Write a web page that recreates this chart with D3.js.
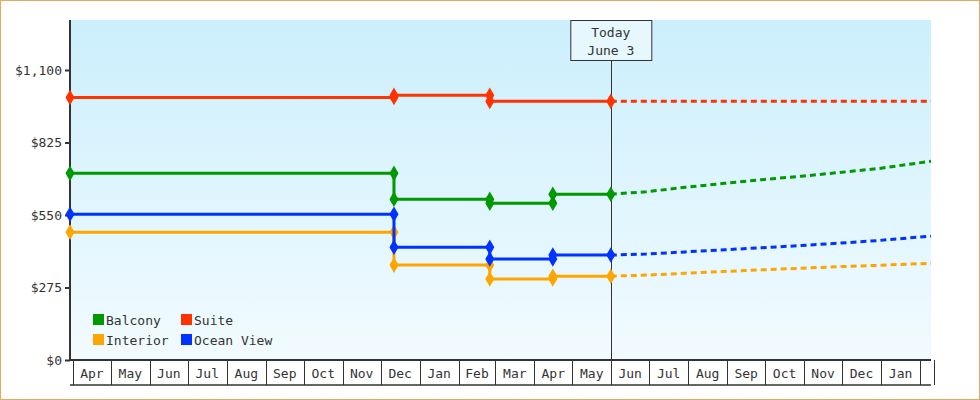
<!DOCTYPE html>
<html><head><meta charset="utf-8">
<script src="https://cdn.jsdelivr.net/npm/d3@7"></script>
<style>body{margin:0;background:#fff}svg{display:block}text{font-family:"DejaVu Sans Mono",monospace;font-size:13px;fill:#333}</style>
</head><body><svg id="c" width="980" height="400"></svg>
<script>
const yTicks = [0, 275, 550, 825, 1100];
const changeDates = ["2023-04-01", "2023-12-14", "2024-02-28", "2024-04-18", "2024-06-03"];
const forecastDates = ["2024-06-03","2024-07-01","2024-08-01","2024-09-01","2024-10-01","2024-11-01","2024-12-01","2025-01-01","2025-02-12"];
// history: values before/after each change date (empty = no marker)
const suiteHist    = [[996],[996,1004],[1004,981],[],[981]];
const balconyHist  = [[708],[708,610],[610,595],[595,629],[629]];
const oceanHist    = [[553],[553,428],[428,383],[383,398],[398]];
const interiorHist = [[485],[485,360],[360,307],[307,318],[318]];
const suiteFc    = [981,981,981,981,981,981,981,981,981];
const balconyFc  = [629,638,655,670,684,697,711,726,754];
const oceanFc    = [398,402,410,418,426,434,443,453,470];
const interiorFc = [318,322,329,336,342,348,354,359,367];
const seriesNames = ["Balcony","Suite","Interior","Ocean View"];
const colors = {"Balcony":"#009900","Suite":"#ff3300","Interior":"#ffa500","Ocean View":"#0033ff"};
const hist = {"Balcony":balconyHist,"Suite":suiteHist,"Interior":interiorHist,"Ocean View":oceanHist};
const fc = {"Balcony":balconyFc,"Suite":suiteFc,"Interior":interiorFc,"Ocean View":oceanFc};

const svg = d3.select("#c");
const L=70,R=931,T=20,B=360;
const p = d3.timeParse("%Y-%m-%d");
const x = d3.scaleTime().domain([p("2023-04-01"), p("2025-02-12")]).range([L,R]);
const y = d3.scaleLinear().domain([0,1100]).range([B,70]);

svg.append("rect").attr("x",0.5).attr("y",0.5).attr("width",979).attr("height",399).attr("fill","#fff").attr("stroke","#e8a860");
const g = svg.append("defs").append("linearGradient").attr("id","bg").attr("x1",0).attr("y1",0).attr("x2",0).attr("y2",1);
g.append("stop").attr("offset",0).attr("stop-color","#cbeffc");
g.append("stop").attr("offset",1).attr("stop-color","#f2fbff");
svg.append("rect").attr("x",L).attr("y",T).attr("width",R-L).attr("height",B-T).attr("fill","url(#bg)");

const ya = svg.append("g").attr("transform",`translate(${L},0)`)
  .call(d3.axisLeft(y).tickValues(yTicks).tickFormat(d=>"$"+d3.format(",")(d)).tickSize(5).tickPadding(3));
ya.select(".domain").remove();
ya.selectAll("line").attr("stroke","#333").attr("stroke-width",2);
ya.selectAll("text").style("font-size","13px").attr("fill","#333");
svg.append("line").attr("x1",L).attr("x2",L).attr("y1",T).attr("y2",B).attr("stroke","#333").attr("stroke-width",2);
svg.append("line").attr("x1",L).attr("x2",R).attr("y1",B).attr("y2",B).attr("stroke","#333").attr("stroke-width",2);

const months = d3.timeMonth.range(p("2023-04-01"), x.domain()[1]);
const bounds = months.concat([x.domain()[1]]);
svg.append("line").attr("x1",L).attr("x2",R).attr("y1",385).attr("y2",385).attr("stroke","#333").attr("stroke-width",1.5);
svg.selectAll(".sep").data(bounds).join("line").attr("x1",d=>Math.round(x(d))+3.5).attr("x2",d=>Math.round(x(d))+3.5)
  .attr("y1",B).attr("y2",385).attr("stroke","#333");
svg.selectAll(".ml").data(months.filter((d,i)=>i<months.length-1)).join("text")
  .attr("x",(d,i)=>(x(d)+x(bounds[i+1]))/2+3).attr("y",378).attr("text-anchor","middle").text(d3.timeFormat("%b"));

const today = p("2024-06-03");
svg.append("line").attr("x1",Math.round(x(today))+0.5).attr("x2",Math.round(x(today))+0.5).attr("y1",60).attr("y2",385).attr("stroke","#333");
svg.append("rect").attr("x",x(today)-40).attr("y",20.5).attr("width",81).attr("height",40).attr("fill","#e6f7fd").attr("stroke","#333");
svg.append("text").attr("x",x(today)).attr("y",37).attr("text-anchor","middle").text("Today");
svg.append("text").attr("x",x(today)).attr("y",55).attr("text-anchor","middle").text("June 3");

seriesNames.forEach(n=>{
  const pts=[];
  hist[n].forEach((vals,i)=>vals.forEach(v=>pts.push([p(changeDates[i]),v])));
  const f = fc[n].map((v,i)=>[p(forecastDates[i]),v]);
  svg.append("path").datum(f).attr("d",d3.line().x(d=>x(d[0])).y(d=>y(d[1]))).attr("fill","none").attr("stroke",colors[n]).attr("stroke-width",3).attr("stroke-dasharray","6,4");
  svg.append("path").datum(pts).attr("d",d3.line().curve(d3.curveStepAfter).x(d=>x(d[0])).y(d=>y(d[1]))).attr("fill","none").attr("stroke",colors[n]).attr("stroke-width",3);
  svg.selectAll(null).data(pts).join("g").attr("transform",d=>`translate(${x(d[0])},${y(d[1])})`)
    .call(s=>{s.append("path").attr("d",d3.symbol(d3.symbolDiamond,70)).attr("fill",colors[n]);
              s.append("circle").attr("r",3.5).attr("fill",colors[n]);});
});

const lg = [["Balcony",93,320],["Suite",181,320],["Interior",93,340],["Ocean View",181,340]];
lg.forEach(([n,lx,ly])=>{
  svg.append("rect").attr("x",lx).attr("y",ly-6).attr("width",11).attr("height",11).attr("fill",colors[n]);
  svg.append("text").attr("x",lx+13).attr("y",ly+5).text(n);
});
</script></body></html>
